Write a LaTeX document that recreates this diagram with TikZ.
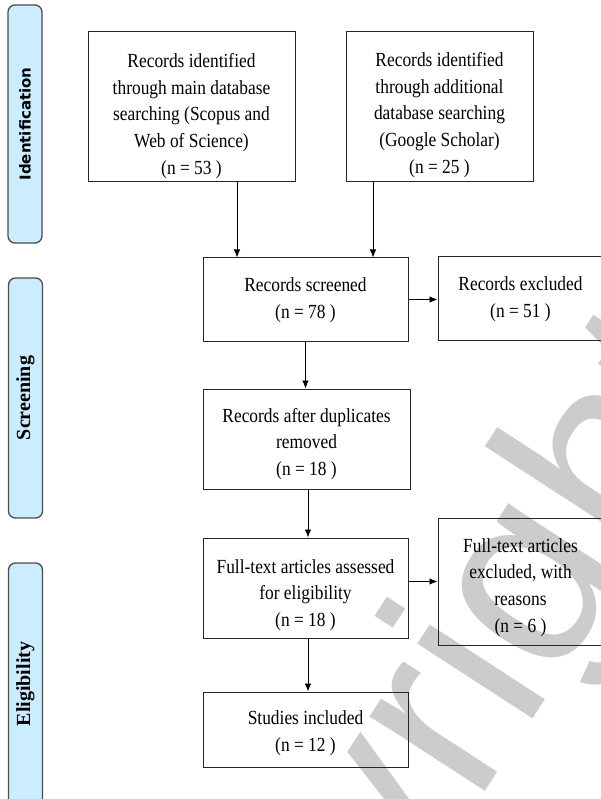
\documentclass[tikz,border=0pt]{standalone}
\usepackage{fontspec}
\setmainfont{Liberation Serif}[FakeStretch=0.87]
\newfontfamily\labfont{Liberation Serif}
\newfontfamily\wmfont{Liberation Sans}
\newfontfamily\idfont{DejaVu Sans}
\usetikzlibrary{arrows.meta}
\definecolor{phasefill}{RGB}{204,236,255}
\definecolor{wmgray}{RGB}{204,204,204}
\begin{document}
\begin{tikzpicture}[x=1pt,y=-1pt,
  box/.style={draw=black!85,line width=1pt,inner sep=0pt},
  txt/.style={align=center,inner sep=0pt,font=\fontsize{20}{26.7}\selectfont},
  phase/.style={draw=black!70,fill=phasefill,line width=1.3pt,rounded corners=7pt,rotate=90,inner sep=0pt,minimum height=34pt},
  arr/.style={draw=black,line width=0.9pt,-{Latex[length=8pt,width=6.5pt]}},
  wm/.style={text=wmgray,font=\wmfont\fontsize{260}{280}\selectfont,rotate=57,inner sep=0pt}]
\useasboundingbox (0,0) rectangle (600,799);
% watermark
\node[wm] (wmark) at (392,812) {Copyright};
% phase labels
\node[phase,minimum width=238pt,font=\idfont\bfseries\fontsize{15}{18}\selectfont] (pid) at (25,124) {Identification};
\node[phase,minimum width=240pt,font=\labfont\bfseries\fontsize{20}{24}\selectfont] (pscr) at (25.5,398) {Screening};
\node[phase,minimum width=242pt,font=\labfont\bfseries\fontsize{20}{24}\selectfont] (pel) at (25.5,684) {Eligibility};
% boxes
\node[box,minimum width=207pt,minimum height=150pt] (b1) at (191.5,107) {};
\node[box,minimum width=187pt,minimum height=150pt] (b2) at (439.5,107) {};
\node[box,minimum width=205pt,minimum height=83pt] (scr) at (305.5,299.5) {};
\node[box,minimum width=165pt,minimum height=83pt] (exc) at (520.5,298.5) {};
\node[box,minimum width=207pt,minimum height=100pt] (dup) at (306.5,439) {};
\node[box,minimum width=205pt,minimum height=100pt] (ft) at (305.5,588) {};
\node[box,minimum width=165pt,minimum height=127pt] (ftx) at (520.5,581.5) {};
\node[box,minimum width=205pt,minimum height=75pt] (inc) at (305.5,729.5) {};
% texts
\node[txt] (t1) at ([yshift=-9pt]b1.center) {Records identified\\through main database\\searching (Scopus and\\Web of Science)\\(n = 53 )};
\node[txt] (t2) at ([yshift=-8pt]b2.center) {Records identified\\through additional\\database searching\\(Google Scholar)\\(n = 25 )};
\node[txt] (t3) at ([yshift=-1pt]scr.center) {Records screened\\(n = 78 )};
\node[txt] (t4) at ([yshift=-1pt]exc.center) {Records excluded\\(n = 51 )};
\node[txt] (t5) at ([yshift=-5pt]dup.center) {Records after duplicates\\removed\\(n = 18 )};
\node[txt] (t6) at ([yshift=-7pt]ft.center) {Full-text articles assessed\\for eligibility\\(n = 18 )};
\node[txt] (t7) at ([yshift=-6pt]ftx.center) {Full-text articles\\excluded, with\\reasons\\(n = 6 )};
\node[txt] (t8) at ([yshift=-4pt]inc.center) {Studies included\\(n = 12 )};
% arrow positions
\coordinate (ax1) at (237,0);
\coordinate (ax2) at (373,0);
\coordinate (ax3) at (308,0);
% connectors
\draw[arr] (b1.south -| ax1) -- (scr.north -| ax1);
\draw[arr] (b2.south -| ax2) -- (scr.north -| ax2);
\draw[arr] (scr.east) -- (exc.west |- scr.east);
\draw[arr] (scr.south) -- (dup.north -| scr.south);
\draw[arr] (dup.south -| ax3) -- (ft.north -| ax3);
\draw[arr] (ft.east |- ftx.west) -- (ftx.west);
\draw[arr] (ft.south -| ax3) -- (inc.north -| ax3);
\end{tikzpicture}
\end{document}
